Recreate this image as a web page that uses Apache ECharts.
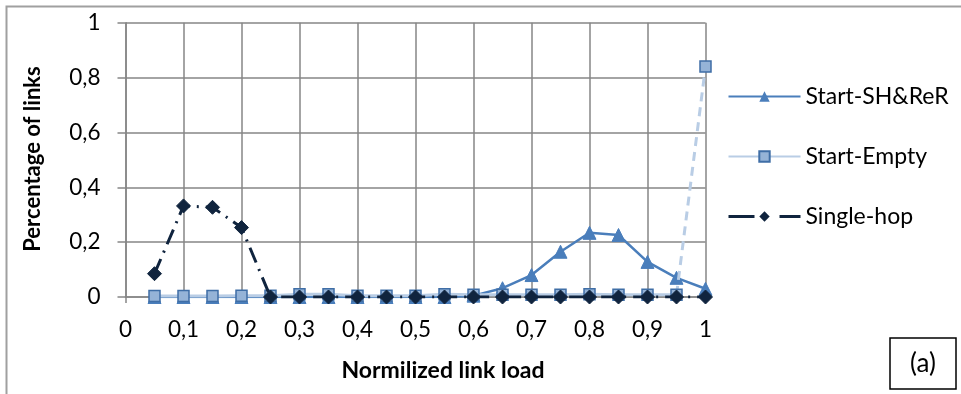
<!DOCTYPE html>
<html>
<head>
<meta charset="utf-8">
<script src="https://cdn.jsdelivr.net/npm/echarts@6/dist/echarts.min.js"></script>
<style>html,body{margin:0;padding:0;background:#fff}#c{width:961px;height:394px}</style>
</head>
<body>
<div id="c"></div>
<script>
const loads = [0.05,0.1,0.15,0.2,0.25,0.3,0.35,0.4,0.45,0.5,0.55,0.6,0.65,0.7,0.75,0.8,0.85,0.9,0.95,1];
const startShReR = [0,0,0,0,0,0,0,0,0,0,0,0.005,0.032,0.08,0.165,0.234,0.226,0.128,0.07,0.03];
const startEmpty = [0.004,0.004,0.004,0.005,0.005,0.01,0.01,0.005,0.005,0.005,0.01,0.008,0.008,0.008,0.008,0.01,0.008,0.008,0.008,0.84];
const singleHop = [0.085,0.332,0.327,0.253,0,0,0,0,0,0,0,0,0,0,0,0,0,0,0,0];
const seriesNames = ['Start-SH&ReR','Start-Empty','Single-hop'];
const xTitle = 'Normilized link load';
const yTitle = 'Percentage of links';
const panelLabel = '(a)';

const FONT = 'Lato';
const fmt = v => String(+(+v).toFixed(2)).replace('.', ',');
const pairs = arr => arr.map((v,i)=>[loads[i], v]);
const n = loads.length;

const chart = echarts.init(document.getElementById('c'));
chart.setOption({
  animation:false,
  textStyle:{fontFamily:FONT},
  grid:{left:125.5, right:255.5, top:22.7, bottom:97, containLabel:false},
  xAxis:{type:'value', min:0, max:1, interval:0.1,
    axisLine:{show:true, lineStyle:{color:'#868686', width:1.5}},
    axisTick:{show:true, length:6, lineStyle:{color:'#868686', width:1.5}},
    splitLine:{show:true, lineStyle:{color:'#868686', width:1.5}},
    axisLabel:{formatter:fmt, color:'#000', fontSize:22.5, fontFamily:FONT, margin:21}},
  yAxis:{type:'value', min:0, max:1, interval:0.2,
    axisLine:{show:true, lineStyle:{color:'#868686', width:1.5}},
    axisTick:{show:true, length:8, lineStyle:{color:'#868686', width:1.5}},
    splitLine:{show:true, lineStyle:{color:'#868686', width:1.5}},
    axisLabel:{formatter:fmt, color:'#000', fontSize:22.5, fontFamily:FONT, margin:25}},
  legend:{orient:'vertical', left:722, top:80, itemWidth:72, itemHeight:13, itemGap:37,
    textStyle:{fontSize:23, color:'#000', fontFamily:FONT},
    data:[
      {name:seriesNames[0]},
      {name:seriesNames[1]},
      {name:seriesNames[2], lineStyle:{type:[26,25,40,0], width:3}}
    ]},
  graphic:[
    {type:'rect', shape:{x:6.5, y:6.5, width:1200, height:1200}, style:{fill:'none', stroke:'#a0a0a0', lineWidth:2}, silent:true},
    {type:'rect', shape:{x:890, y:338, width:66, height:51}, style:{fill:'#fff', stroke:'#000', lineWidth:1.5}},
    {type:'text', x:923, y:363.5, style:{text:panelLabel, font:'26px '+FONT, fill:'#000', align:'center', verticalAlign:'middle'}},
    {type:'text', x:443, y:371, style:{text:xTitle, font:'bold 23px '+FONT, fill:'#000', align:'center', verticalAlign:'middle'}},
    {type:'text', x:33, y:159, rotation:Math.PI/2, style:{text:yTitle, font:'bold 22px '+FONT, fill:'#000', align:'center', verticalAlign:'middle'}}
  ],
  series:[
    {name:seriesNames[0], type:'line', data:pairs(startShReR), z:2,
      symbol:'triangle', symbolSize:13, showAllSymbol:true,
      lineStyle:{color:'#4a7ebb', width:2.5},
      itemStyle:{color:'#4a7ebb', borderColor:'#4a7ebb'}},
    {name:seriesNames[1], type:'line', data:pairs(startEmpty).slice(0,n-1), z:3,
      symbol:'rect', symbolSize:11, showAllSymbol:true,
      lineStyle:{color:'#b9cde5', width:3},
      itemStyle:{color:'#95b3d7', borderColor:'#3f6ea6', borderWidth:1.5}},
    {name:'', type:'line', data:pairs(startEmpty).slice(n-2).map((p,i)=>i===0?{value:p, symbol:'none'}:{value:p}), z:3,
      symbol:'rect', symbolSize:11, showAllSymbol:true,
      lineStyle:{color:'#b9cde5', width:3, type:[9,6]},
      itemStyle:{color:'#95b3d7', borderColor:'#3f6ea6', borderWidth:1.5}},
    {name:seriesNames[2], type:'line', data:pairs(singleHop), z:4,
      symbol:'diamond', symbolSize:14, showAllSymbol:true,
      lineStyle:{color:'#10243e', width:3, type:[16,7,2,7]},
      itemStyle:{color:'#10243e', borderColor:'#10243e'}}
  ]
});
</script>
</body>
</html>
